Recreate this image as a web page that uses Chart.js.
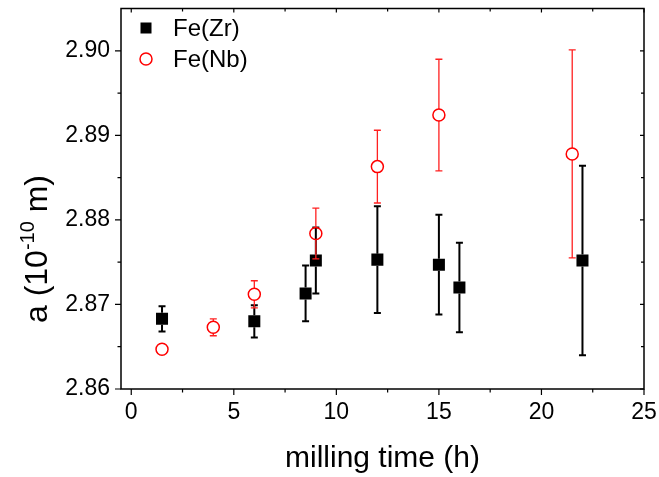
<!DOCTYPE html>
<html>
<head>
<meta charset="utf-8">
<script src="https://cdn.jsdelivr.net/npm/chart.js@4.4.1/dist/chart.umd.min.js"></script>
<style>
    html, body { margin: 0; padding: 0; background: #ffffff; }
</style>
</head>
<body>
<canvas id="latticeChart" width="659" height="477"></canvas>
<script>
// Lattice parameter a vs milling time, Fe(Zr) and Fe(Nb)

const zrTime = [1.5, 6, 8.5, 9, 12, 15, 16, 22];
const zrA    = [2.8683, 2.8680, 2.8713, 2.8752, 2.8753, 2.8747, 2.8720, 2.8752];
const zrErr  = [0.0015, 0.0019, 0.0033, 0.0039, 0.0063, 0.0059, 0.0053, 0.0112];

const nbTime = [1.5, 4, 6, 9, 12, 15, 21.5];
const nbA    = [2.8647, 2.8673, 2.8712, 2.8784, 2.8863, 2.8924, 2.8878];
const nbErr  = [0.0002, 0.0010, 0.0016, 0.0030, 0.0043, 0.0066, 0.0123];

const xTicks      = [0, 2.5, 5, 7.5, 10, 12.5, 15, 17.5, 20, 22.5, 25];
const xTickLabels = ['0', '', '5', '', '10', '', '15', '', '20', '', '25'];
const yTicks      = [2.86, 2.865, 2.87, 2.875, 2.88, 2.885, 2.89, 2.895, 2.90];
const yTickLabels = ['2.86', '', '2.87', '', '2.88', '', '2.89', '', '2.90'];

const FONT = 'Arial, "Liberation Sans", Helvetica, sans-serif';

function toPoints(xs, ys) {
    return xs.map(function(x, i) { return { x: x, y: ys[i] }; });
}

// error bars, drawn right before each dataset's markers
const errorBarPlugin = {
    id: 'errorBars',
    beforeDatasetDraw: function(chart, args) {
        const ds = chart.data.datasets[args.index];
        if (!ds.errors) return;
        const xs = chart.scales.x, ys = chart.scales.y;
        const ctx = chart.ctx;
        const gap = ds.errorGap || 0;
        const cap = 3.5;
        ctx.save();
        ctx.strokeStyle = ds.errorColor;
        ctx.lineWidth = ds.errorWidth;
        ds.data.forEach(function(p, i) {
            const err = ds.errors[i];
            const px = xs.getPixelForValue(p.x);
            const py = ys.getPixelForValue(p.y);
            const top = ys.getPixelForValue(p.y + err);
            const bot = ys.getPixelForValue(p.y - err);
            if (py - top <= gap) return;
            ctx.beginPath();
            ctx.moveTo(px, top); ctx.lineTo(px, py - gap);
            ctx.moveTo(px, py + gap); ctx.lineTo(px, bot);
            ctx.moveTo(px - cap, top); ctx.lineTo(px + cap, top);
            ctx.moveTo(px - cap, bot); ctx.lineTo(px + cap, bot);
            ctx.stroke();
        });
        ctx.restore();
    }
};

// frame, tick marks, y title with superscript, legend
const framePlugin = {
    id: 'frame',
    afterDraw: function(chart) {
        const ctx = chart.ctx;
        const a = chart.chartArea;
        const xs = chart.scales.x, ys = chart.scales.y;
        ctx.save();
        ctx.strokeStyle = '#000';
        ctx.lineWidth = 1.5;
        ctx.strokeRect(a.left, a.top, a.right - a.left, a.bottom - a.top);

        ctx.lineWidth = 1.2;
        ctx.beginPath();
        xs.ticks.forEach(function(t, i) {
            const px = xs.getPixelForValue(t.value);
            const major = xTickLabels[i] !== '';
            ctx.moveTo(px, a.bottom); ctx.lineTo(px, a.bottom + (major ? 6 : 3.5));
            ctx.moveTo(px, a.top); ctx.lineTo(px, a.top + (major ? 4 : 3));
        });
        ys.ticks.forEach(function(t, i) {
            const py = ys.getPixelForValue(t.value);
            const major = yTickLabels[i] !== '';
            ctx.moveTo(a.left, py); ctx.lineTo(a.left - (major ? 6 : 3.5), py);
            ctx.moveTo(a.right, py); ctx.lineTo(a.right - (major ? 4 : 3), py);
        });
        ctx.stroke();

        // y axis title: a (10^-10 m)
        ctx.fillStyle = '#000';
        ctx.textBaseline = 'alphabetic';
        const big = '32px ' + FONT, small = '20px ' + FONT;
        const parts = [['a (10', big, 0], ['-10', small, -13], [' m)', big, 0]];
        let total = 0;
        parts.forEach(function(p) { ctx.font = p[1]; total += ctx.measureText(p[0]).width; });
        ctx.translate(47, 249);
        ctx.rotate(-Math.PI / 2);
        let cx = -total / 2;
        parts.forEach(function(p) {
            ctx.font = p[1];
            ctx.fillText(p[0], cx, p[2]);
            cx += ctx.measureText(p[0]).width;
        });
        ctx.setTransform(1, 0, 0, 1, 0, 0);

        // legend
        ctx.font = '24px ' + FONT;
        ctx.textBaseline = 'middle';
        const zr = chart.data.datasets[0], nb = chart.data.datasets[1];
        ctx.fillStyle = zr.backgroundColor;
        ctx.fillRect(146 - 5.5, 28 - 5.5, 11, 11);
        ctx.fillStyle = '#000';
        ctx.fillText(zr.label, 173, 29);
        ctx.beginPath();
        ctx.arc(146, 59, 6, 0, Math.PI * 2);
        ctx.strokeStyle = nb.borderColor;
        ctx.lineWidth = 1.5;
        ctx.stroke();
        ctx.fillText(nb.label, 173, 60);
        ctx.restore();
    }
};

new Chart(document.getElementById('latticeChart'), {
    type: 'scatter',
    data: {
        datasets: [{
            label: 'Fe(Zr)',
            data: toPoints(zrTime, zrA),
            errors: zrErr,
            errorGap: 6,
            errorColor: '#000',
            errorWidth: 2,
            pointStyle: 'rect',
            pointRadius: 8.5,
            pointHoverRadius: 8.5,
            backgroundColor: '#000',
            borderColor: '#000',
            borderWidth: 0,
            order: 2
        }, {
            label: 'Fe(Nb)',
            data: toPoints(nbTime, nbA),
            errors: nbErr,
            errorGap: 6,
            errorColor: '#ff2020',
            errorWidth: 1.3,
            pointStyle: 'circle',
            pointRadius: 6,
            pointHoverRadius: 6,
            backgroundColor: 'rgba(255,255,255,0)',
            borderColor: '#ff0000',
            borderWidth: 1.5,
            order: 1
        }]
    },
    options: {
        responsive: false,
        animation: false,
        layout: { padding: { top: 7, right: 15, left: 0, bottom: 0 } },
        plugins: {
            legend: { display: false },
            tooltip: { enabled: false }
        },
        scales: {
            x: {
                type: 'linear',
                min: -0.5,
                max: 25,
                afterBuildTicks: function(scale) {
                    scale.ticks = xTicks.map(function(v) { return { value: v }; });
                },
                afterFit: function(scale) {
                    scale.height = 88;
                    scale.paddingLeft = 0;
                    scale.paddingRight = 0;
                },
                ticks: {
                    autoSkip: false,
                    maxRotation: 0,
                    padding: 10,
                    color: '#000',
                    font: { family: FONT, size: 23 },
                    callback: function(value, index) { return xTickLabels[index]; }
                },
                grid: { display: false, drawTicks: false },
                border: { display: false },
                title: {
                    display: true,
                    text: 'milling time (h)',
                    color: '#000',
                    font: { family: FONT, size: 30 },
                    padding: { top: 0, bottom: 0 }
                }
            },
            y: {
                type: 'linear',
                min: 2.86,
                max: 2.905,
                afterBuildTicks: function(scale) {
                    scale.ticks = yTicks.map(function(v) { return { value: v }; });
                },
                afterFit: function(scale) {
                    scale.width = 121;
                    scale.paddingTop = 0;
                    scale.paddingBottom = 0;
                },
                ticks: {
                    autoSkip: false,
                    padding: 11,
                    color: '#000',
                    font: { family: FONT, size: 23 },
                    callback: function(value, index) { return yTickLabels[index]; }
                },
                grid: { display: false, drawTicks: false },
                border: { display: false }
            }
        }
    },
    plugins: [errorBarPlugin, framePlugin]
});
</script>
</body>
</html>
